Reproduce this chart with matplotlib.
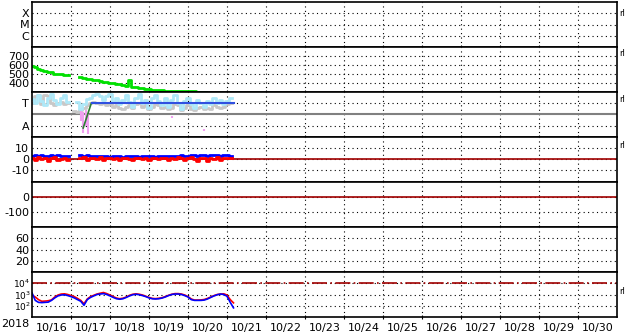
import numpy as np
import matplotlib.pyplot as plt
from matplotlib.ticker import NullLocator

nan = np.nan

# sample times: every 2 hours from 10/16 00:00
hours = np.arange(0, 126, 2)
days = hours / 24

day_labels = ["10/16", "10/17", "10/18", "10/19", "10/20", "10/21", "10/22", "10/23",
              "10/24", "10/25", "10/26", "10/27", "10/28", "10/29", "10/30"]

# panel 2 (green)
green_vals = [590, 575, 560, 540, 535, 525, 520, 505, 500, 495, 490, 488,
              nan, nan, nan,
              470, 450, 445, 440, 435, 430, 425, 415, 410, 400, 395, 390, 385, 375, 370,
              430, 360, 355, 345, 340, 335, 330, 325, 320, 320, 318, 315, 315, 312, 312,
              310, 310, 308, 308, 306, 306, 305, 305, 305,
              nan, nan, nan, nan, nan, nan, nan, nan, nan]

# panel 3 (T / A)
ltblue_vals = [3.4, 3.0, 3.7, 3.2, 2.8, 3.5, 3.8, 3.3, 2.9, 3.5, 3.7, 3.1,
               nan, nan,
               3.1, 2.5, 2.9, 3.4, 3.5, 3.7, 3.8, 3.6, 3.3, 3.6, 3.8, 3.1, 3.5, 2.9, 3.3,
               3.7, 3.1, 2.7, 3.5, 3.8, 3.0, 3.3, 2.6, 3.5, 3.7, 3.2, 2.8, 3.5, 2.7, 3.3,
               3.7, 3.0, 2.5, 3.2, 3.5, 2.9, 2.6, 3.3, 3.0, 2.7, 3.2, 2.9, 3.5, 3.0, 3.3,
               2.9, 3.2, 3.5, nan]
gray_vals = [3.0, 3.6, 3.7, 2.9, 3.7, 3.6, 3.0, 2.8, 3.0, 3.1, 2.9, 3.0,
             nan, 2.3, 2.2,
             2.4, 2.6, 2.8, 3.0, 3.1, 3.0, 2.9, 3.0, 2.8, 2.9, 2.7, 2.8, 2.6, 2.5, 2.7,
             2.8, 2.6, 2.9, 3.0, 2.7, 2.8, 2.5, 2.7, 2.9, 2.8, 2.6, 2.7, 2.5, 2.6, 2.9,
             2.8, 2.4, 2.6, 2.8, 2.5, 2.4, 2.6, 2.7, 2.5, 2.6, 2.5, 2.8, 2.7, 2.6, 2.7,
             2.9, 3.0, nan]
pink_hours = [30, 31.5, 33, 34.5, 86, 106]
pink_low = [1.4, 0.4, 1.0, 0.3, 1.7, 0.5]
pink_high = [2.3, 2.2, 2.4, 2.0, 1.9, 0.7]
dkgreen_hours = [31.5, 36.5]
dkgreen_vals = [0.8, 3.0]
tline_hours = [37, 124]
tline_vals = [3, 3]

# panel 4
p4_blue = [3, 4, 3, 3.5, 2.5, 3, 4, 3, 3.5, 3, 2.5, 3,
           nan, nan, nan,
           4, 3, 3.5, 2.5, 3, 3, 2.5, 2.5, 3, 2, 2.5, 3, 2.5, 2, 2.5,
           3, 2.5, 2.5, 2, 3, 2.5, 3, 2.5, 2, 2.5, 3, 2.5, 2.5, 3, 2.5,
           3, 3.5, 3, 2.5, 3.5, 4, 3, 3.5, 4, 3, 3.5, 4, 3.5, 3, 4, 3.5, 3, nan]
p4_red = [1, -1, 2, 0, 1, -2, 1, 2, -1, 0, 1, -1,
          nan, nan, nan,
          1, 2, -1, 0.5, 1, 0, 1.5, -0.5, 1, 0.5, 0, 1, -1, 0.5, 1,
          0, -0.5, 1, 0.5, 0, 1, -1, 0.5, 1, 0, 1, 0.5, -0.5, 1, 0,
          1.5, 0.5, -1, 1, 2, 0, -1.5, 1, 0.5, -2, 1, 0, 2, -1, 1, 0.5, 1, nan]

# panel 7 (log)
p7_blue = [1400, 300, 200, 190, 200, 210, 300, 500, 750, 900, 950, 800, 650, 500, 350,
           250, 110, 350, 550, 750, 1000, 1100, 1200, 1000, 750, 550, 420, 380, 420, 550,
           750, 950, 1050, 950, 800, 650, 500, 420, 400, 420, 480, 600, 800, 1000, 1100,
           1100, 1000, 800, 600, 350, 300, 300, 300, 320, 400, 550, 750, 950, 1100, 1000,
           700, 200, 65]
p7_red = [900, 600, 350, 250, 260, 280, 330, 600, 900, 1100, 1150, 1000, 800, 650, 450,
          300, 150, 400, 650, 850, 1100, 1300, 1500, 1200, 900, 650, 480, 420, 470, 600,
          850, 1050, 1150, 1050, 900, 700, 550, 450, 430, 460, 520, 650, 850, 1050, 1200,
          1200, 1100, 900, 650, 400, 320, 320, 330, 360, 450, 600, 800, 1000, 1100, 1150,
          900, 350, 180]

plt.rcParams['font.family'] = 'DejaVu Sans'
plt.rcParams['font.size'] = 8
plt.rcParams['axes.unicode_minus'] = False

fig, axes = plt.subplots(7, 1, figsize=(6.33, 3.34), dpi=100, sharex=True)
fig.subplots_adjust(left=32/633, right=617/633, top=1-2/334, bottom=1-317/334, hspace=0)

dred = '#a00000'
for ax in axes:
    ax.set_xlim(0, 15)
    ax.set_xticks(range(1, 15))
    ax.grid(True, which='major', linestyle=(0, (1, 3)), color='black', lw=0.8)
    ax.tick_params(axis='y', length=0, pad=2, labelsize=8)
    ax.tick_params(axis='x', which='major', length=3, direction='inout', labelbottom=False)
    for s in ax.spines.values():
        s.set_linewidth(1.2)

# panel 1
ax = axes[0]
ax.set_ylim(0, 4)
ax.set_yticks([3, 2, 1], ["X", "M", "C"])

# panel 2
ax = axes[1]
ax.set_ylim(300, 800)
ax.set_yticks([700, 600, 500, 400])
ax.plot(days, green_vals, color='#00e000', lw=2, drawstyle='steps-mid')

# panel 3
ax = axes[2]
ax.set_ylim(0, 4)
ax.set_yticks([3, 1], ["T", "A"])
ax.axhline(2, color='#808080', lw=1.5)
ax.plot(days, gray_vals, color='#c8c8c8', lw=2, drawstyle='steps-mid')
ax.plot(days, ltblue_vals, color='#aee8f8', lw=2, drawstyle='steps-mid')
ax.vlines(np.array(pink_hours) / 24, pink_low, pink_high, color='#f0a0f0', lw=1.5)
ax.plot(np.array(dkgreen_hours) / 24, dkgreen_vals, color='#2e7d32', lw=1.2)
ax.plot(np.array(tline_hours) / 24, tline_vals, color='#3050e0', lw=1.5)

# panel 4
ax = axes[3]
ax.set_ylim(-21, 20)
ax.set_yticks([10, 0, -10])
ax.axhline(0, color=dred, lw=1.2)
ax.plot(days, p4_blue, color='#0000ff', lw=2, drawstyle='steps-mid')
ax.plot(days, p4_red, color='#ff0000', lw=2, drawstyle='steps-mid')

# panel 5
ax = axes[4]
ax.set_ylim(-200, 100)
ax.set_yticks([0, -100])
ax.axhline(0, color=dred, lw=1.2)

# panel 6
ax = axes[5]
ax.set_ylim(0, 80)
ax.set_yticks([60, 40, 20])

# panel 7
ax = axes[6]
ax.set_yscale('log')
ax.set_ylim(10, 1e5)
ax.set_yticks([1e4, 1e3, 1e2])
ax.yaxis.set_minor_locator(NullLocator())
ax.tick_params(axis='y', labelsize=6.5, pad=1)
ax.axhline(1e4, color=dred, lw=1.2, dashes=(9, 2, 1, 2))
ax.plot(days, p7_red, color='#ff0000', lw=1.2)
ax.plot(days, p7_blue, color='#0000ff', lw=1.2)
ax.set_xticks(np.arange(15) + 0.5, day_labels, minor=True)
ax.tick_params(axis='x', which='minor', length=0, pad=4, labelsize=8)

fig.text(1/633, 1-324/334, "2018", va='center', ha='left', fontsize=8)
for ypx in [13, 53, 100, 146, 291]:
    fig.text(619/633, 1-ypx/334, "rl", va='center', ha='left', fontsize=6)

fig.savefig("out.png", dpi=100)
